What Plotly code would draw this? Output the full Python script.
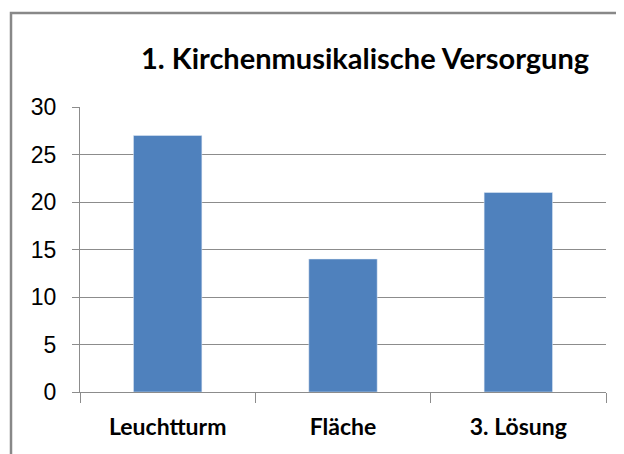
import plotly.graph_objects as go

categories = ["Leuchtturm", "Fläche", "3. Lösung"]
values = [27, 14, 21]
title_text = "1. Kirchenmusikalische Versorgung"

# page is rendered with an 8px body margin, so work in figure coords = page - 8
OFF = 8
W, H = 624 - OFF, 454 - OFF
L, R, T, B = 80 - OFF, 606 - OFF, 107 - OFF, 392 - OFF
pw, ph = R - L, B - T

def px(x):
    return (x - OFF - L) / pw

def py(y):
    return (B - (y - OFF)) / ph

fig = go.Figure(go.Bar(x=categories, y=values, marker_color="#4F81BD", width=0.39))

fig.update_layout(
    width=W, height=H,
    margin=dict(l=L, r=W - R, t=T, b=H - B, pad=0),
    paper_bgcolor="white", plot_bgcolor="white",
    showlegend=False,
    font=dict(family="Lato, Liberation Sans, sans-serif", color="black"),
)
fig.update_yaxes(
    range=[0, 30], dtick=5, showgrid=True, gridcolor="#8c8c8c", gridwidth=1,
    showline=True, linecolor="#8c8c8c", linewidth=1,
    ticks="outside", ticklen=7, tickcolor="#8c8c8c",
    tickfont=dict(size=23, family="Liberation Sans, sans-serif"), ticklabelstandoff=11,
    zeroline=False, fixedrange=True,
)
fig.update_xaxes(
    showline=True, linecolor="#8c8c8c", linewidth=1,
    ticks="outside", ticklen=10, tickcolor="#8c8c8c", tickson="boundaries",
    tickfont=dict(size=23, family="Lato, sans-serif", weight="bold"),
    ticklabelstandoff=14,
)
fig.add_annotation(
    text="<b>" + title_text + "</b>", xref="paper", yref="paper",
    x=px(365), y=py(58), xanchor="center", yanchor="middle", showarrow=False,
    font=dict(size=29, family="Lato, sans-serif", color="black"),
)
fig.add_shape(
    type="rect", xref="paper", yref="paper",
    x0=px(11), x1=px(640), y0=py(13), y1=py(470),
    line=dict(color="#888888", width=2.5), fillcolor="rgba(0,0,0,0)",
)
fig.write_html("out.html")
